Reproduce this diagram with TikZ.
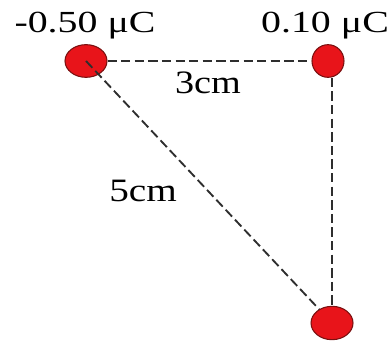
\documentclass[tikz,border=0pt]{standalone}
\usepackage{fontspec}
\setmainfont{Liberation Serif}
\usetikzlibrary{shapes.geometric}
\definecolor{ChargeRed}{HTML}{E8141A}
\definecolor{RimDark}{HTML}{7A1010}
\definecolor{DashGray}{HTML}{2E2E2E}

\begin{document}
\begin{tikzpicture}[x=0.75pt, y=-0.75pt,
    charge/.style={ellipse, draw=RimDark, line width=0.8pt, fill=ChargeRed, inner sep=0pt},
    sep/.style={DashGray, line width=1.4pt, dash pattern=on 7pt off 3.2pt},
    qlabel/.style={anchor=base, inner sep=0pt, font=\fontsize{23}{26}\selectfont},
    dlabel/.style={anchor=base, inner sep=0pt, font=\fontsize{24.5}{28}\selectfont}]
  \useasboundingbox (0,0) rectangle (391,341);

  % The three point charges.
  \node[charge, minimum width=31.5pt, minimum height=24.5pt] (q1) at (86,61) {};
  \node[charge, minimum width=24pt, minimum height=24.5pt] (q2) at (328,61) {};
  \node[charge, minimum width=31.5pt, minimum height=25pt] (q3) at (332,323) {};

  % Separations.
  \draw[sep] (q1) -- (q2);
  \draw[sep] (q3 |- q2.south) -- (q3.north);
  \draw[sep] (q1.center) -- (q3);

  % Charge values and distances.
  \node[qlabel] (l1) at (85,33) {\scalebox{1.3}[1]{-0.50 μC}};
  \node[qlabel] (l2) at (325,33) {\scalebox{1.3}[1]{0.10 μC}};
  \node[dlabel] (d12) at (208,94) {\scalebox{1.17}[1]{3cm}};
  \node[dlabel] (d13) at (143,202) {\scalebox{1.2}[1]{5cm}};
\end{tikzpicture}
\end{document}
